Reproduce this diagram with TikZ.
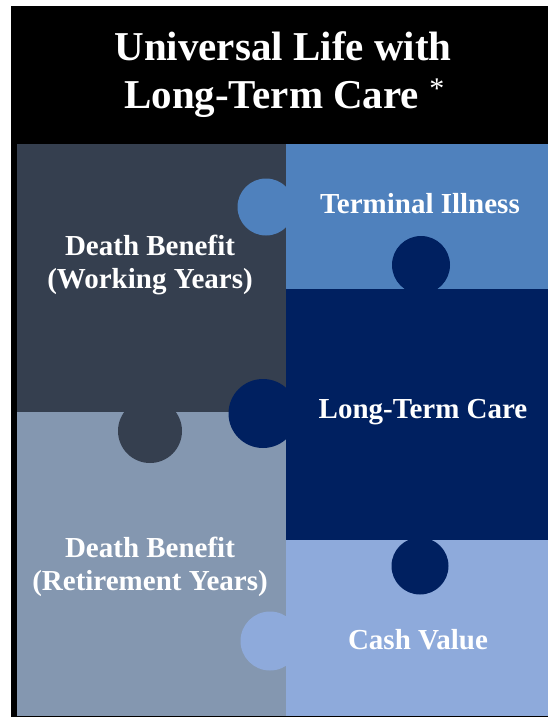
\documentclass[tikz,border=0pt]{standalone}
\usepackage{fontspec}
\setmainfont{Liberation Serif}
\definecolor{cdark}{HTML}{353F4F}
\definecolor{cgray}{HTML}{8497B0}
\definecolor{cblue}{HTML}{4F81BD}
\definecolor{cnavy}{HTML}{002060}
\definecolor{clight}{HTML}{8EAADB}
\begin{document}
\begin{tikzpicture}[x=1pt,y=-1pt,
  title/.style={text=white,font=\fontsize{41}{48}\selectfont\bfseries,inner sep=0pt},
  label/.style={text=white,font=\fontsize{29}{33}\selectfont\bfseries,inner sep=0pt,align=center}]
\useasboundingbox (0,0) rectangle (548,717);
\fill[white] (0,0) rectangle (548,717);
\fill[black] (11,6) rectangle (548,717);
% pieces
\fill[cdark] (17,144) rectangle (286,412);
\fill[cgray] (17,412) rectangle (286,716);
\fill[cblue] (286,144) rectangle (548,289);
\fill[cnavy] (286,289) rectangle (548,540);
\fill[clight] (286,540) rectangle (548,716);
% knobs
\fill[cblue] (266,207) circle[radius=28.5pt];
\fill[cnavy] (421,265) circle[radius=29pt];
\fill[cnavy] (263,413.5) circle[radius=34.5pt];
\fill[cdark] (150,431) circle[radius=32pt];
\fill[cnavy] (420,566) circle[radius=28.5pt];
\fill[clight] (270,641) circle[radius=29.5pt];
% title
\node[title,anchor=base] (t1) at (283,60) {Universal Life with};
\node[title,anchor=base west] (t2) at (124,108) {Long-Term Care {\fontsize{30}{30}\selectfont\mdseries\raisebox{10pt}{*}}};
% labels
\node[label] (dbw) at (150,264.5) {Death Benefit\\(Working Years)};
\node[label] (dbr) at (150,567) {Death Benefit\\(Retirement Years)};
\node[label,anchor=base] (ti) at (420,213) {Terminal Illness};
\node[label,anchor=base] (ltc) at (423,418) {Long-Term Care};
\node[label,anchor=base] (cv) at (418,649) {Cash Value};
\end{tikzpicture}
\end{document}
